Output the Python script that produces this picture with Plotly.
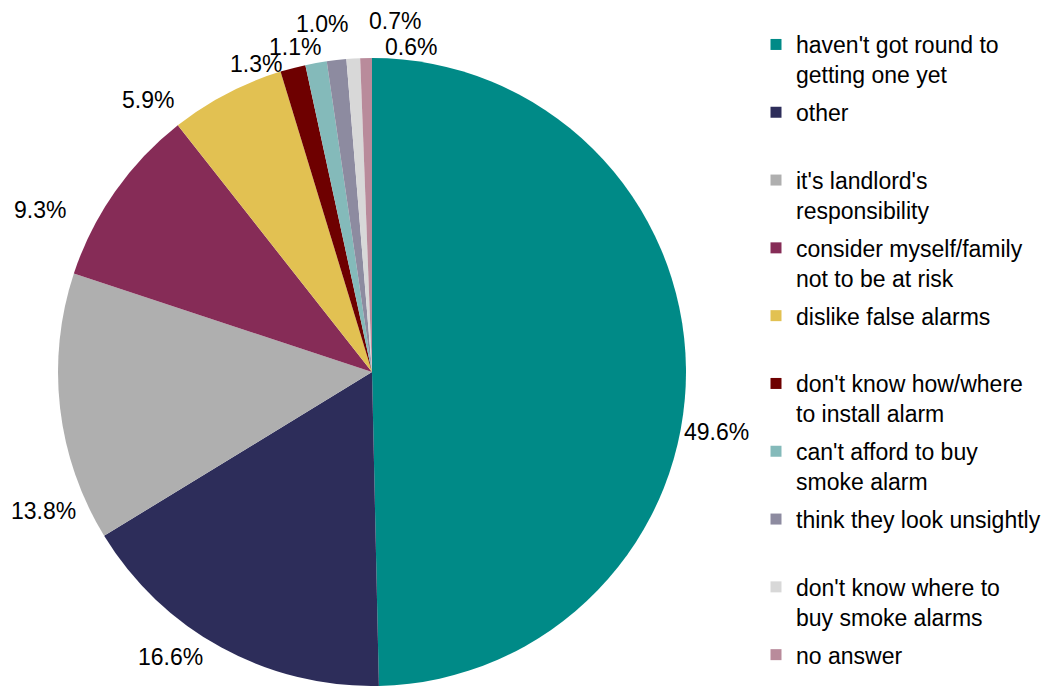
import math
import plotly.graph_objects as go

# Reasons given for not having a smoke alarm (% of respondents)
reasons = [
    "haven't got round to<br>getting one yet",
    "other",
    "it's landlord's<br>responsibility",
    "consider myself/family<br>not to be at risk",
    "dislike false alarms",
    "don't know how/where<br>to install alarm",
    "can't afford to buy<br>smoke alarm",
    "think they look unsightly",
    "don't know where to<br>buy smoke alarms",
    "no answer",
]
shares = [49.6, 16.6, 13.8, 9.3, 5.9, 1.3, 1.1, 1.0, 0.7, 0.6]
colours = [
    "#008A87", "#2D2D5A", "#AFAFAF", "#862C57", "#E2C152",
    "#6E0000", "#84BABA", "#8D8BA0", "#D8D8D8", "#B98B9B",
]

FONT = "Liberation Sans, Arial, sans-serif"
W, H = 1057, 686
CX, CY, R = 372, 372, 314          # pie centre and radius in pixels

# Label placement around the pie: rotation (deg) away from each slice's
# mid-angle and distance (px) of the label centre from the pie centre,
# staggered so the thin slices' labels don't collide.
label_turn = [10.5, 6.7, -16.4, -9.0, -11.9, -6.0, -3.0, -1.7, 7.1, 7.9]
label_dist = [350, 349, 357, 369, 352, 329, 334, 352, 352, 327]

fig = go.Figure()

fig.add_trace(go.Pie(
    labels=reasons,
    values=shares,
    textinfo="none",
    hoverinfo="label+value",
    sort=False,
    direction="clockwise",
    rotation=0,
    marker=dict(colors=colours, line=dict(width=0)),
    domain=dict(x=[(CX - R) / W, (CX + R) / W],
                y=[(H - CY - R) / H, (H - CY + R) / H]),
    showlegend=False,
))

# Percentage labels, positioned from each slice's angular midpoint
total = sum(shares)
running = 0.0
for v, turn, dist in zip(shares, label_turn, label_dist):
    mid = (running + v / 2) / total * 360.0
    running += v
    ang = math.radians(mid + turn)
    px = CX + dist * math.sin(ang)
    py = CY - dist * math.cos(ang)
    fig.add_annotation(
        x=px / W, y=1 - py / H, xref="paper", yref="paper",
        text=f"{v:.1f}%", showarrow=False,
        xanchor="center", yanchor="middle",
        font=dict(family=FONT, size=23, color="#000000"),
    )

# Legend entries: one group per reason so every entry gets an equal slot
# (single-line entries are padded to two lines, except the final one)
for i, (name, col) in enumerate(zip(reasons, colours)):
    last = i == len(reasons) - 1
    label = name if ("<br>" in name or last) else name + "<br> "
    fig.add_trace(go.Scatter(
        x=[None], y=[None], mode="markers",
        marker=dict(symbol="square", size=11, color=col),
        name=label, legendgroup=name, showlegend=True, hoverinfo="skip",
    ))

fig.update_layout(
    width=W, height=H,
    margin=dict(l=0, r=0, t=0, b=0),
    paper_bgcolor="white", plot_bgcolor="white",
    xaxis=dict(visible=False), yaxis=dict(visible=False),
    legend=dict(
        x=756 / W, xanchor="left",
        y=1 - 23 / H, yanchor="top",
        font=dict(family=FONT, size=23, color="#000000"),
        valign="top", traceorder="grouped", tracegroupgap=5,
        bgcolor="rgba(0,0,0,0)",
    ),
    font=dict(family=FONT),
)

fig.write_html("out.html")
